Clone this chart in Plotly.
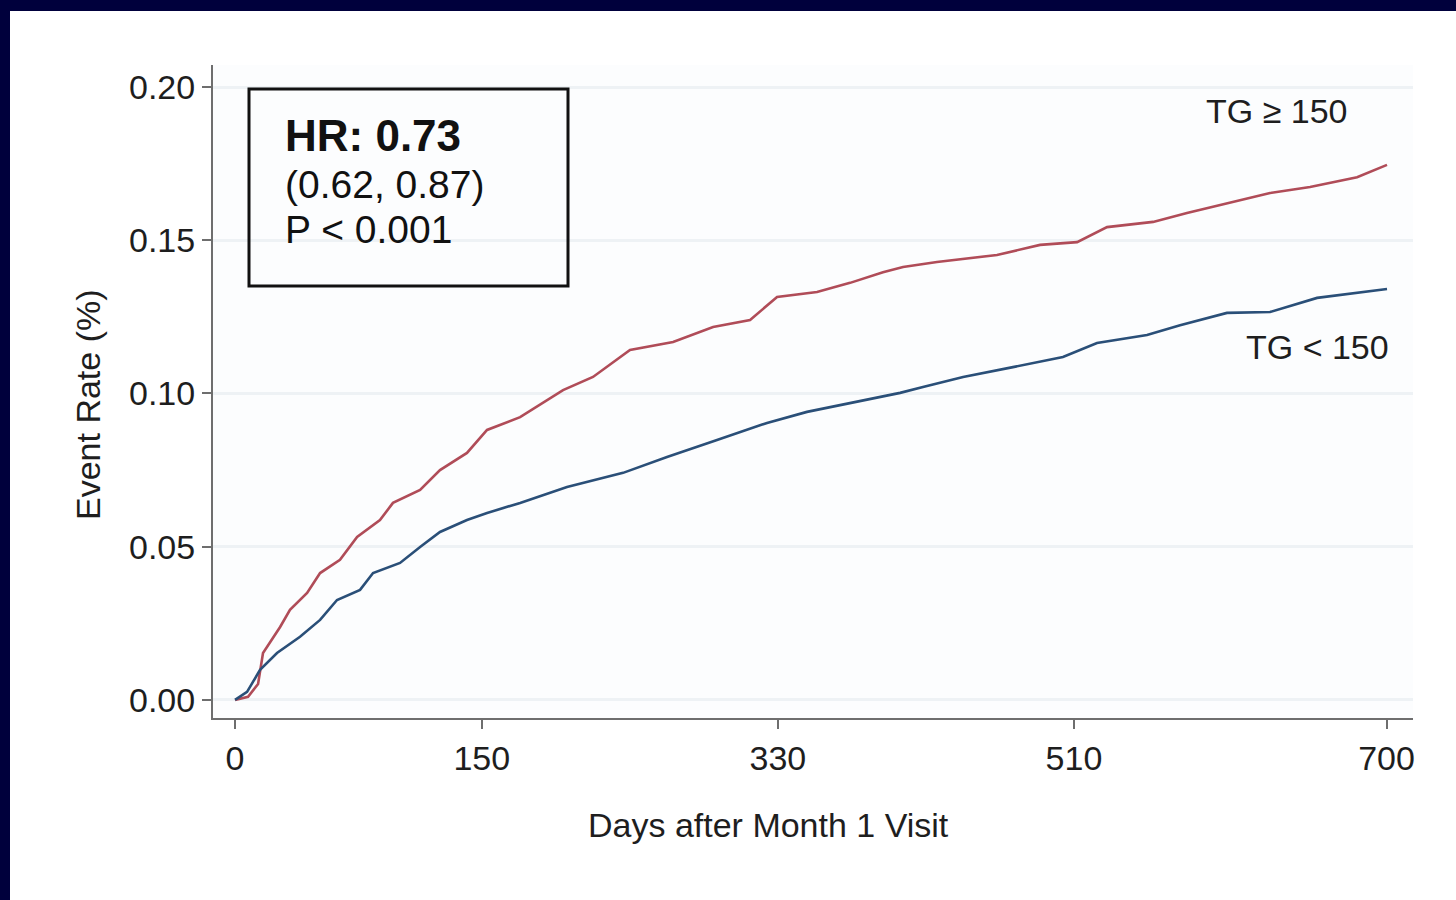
import plotly.graph_objects as go

# Cumulative event rate by baseline triglyceride group
days_tg_high = [0, 7.9, 14.0, 17.0, 27.4, 33.4, 43.8, 51.7, 63.8, 74.2, 88.1, 96.0, 112.5,
                124.6, 141.0, 153.2, 173.3, 187.2, 199.4, 217.6, 240.1, 266.3, 290.6,
                313.1, 329.5, 353.8, 373.9, 393.9, 406.1, 426.7, 463.2, 489.4, 511.9,
                530.1, 558.1, 578.7, 604.9, 629.2, 653.5, 682.1, 700.3]
rate_tg_high = [0, 0.0010, 0.0052, 0.0153, 0.0238, 0.0294, 0.0349, 0.0414, 0.0457, 0.0532,
                0.0587, 0.0643, 0.0685, 0.0750, 0.0806, 0.0881, 0.0923, 0.0969, 0.1011,
                0.1054, 0.1142, 0.1168, 0.1217, 0.1240, 0.1315, 0.1331, 0.1361, 0.1396,
                0.1413, 0.1429, 0.1452, 0.1485, 0.1494, 0.1543, 0.1560, 0.1589, 0.1622,
                0.1654, 0.1674, 0.1706, 0.1746]

days_tg_low = [0, 7.3, 15.2, 25.5, 39.5, 51.7, 62.0, 76.0, 83.9, 100.3, 112.5, 124.6,
               141.0, 153.2, 173.3, 201.8, 235.9, 262.6, 293.0, 323.4, 347.7, 373.9,
               404.3, 418.2, 442.6, 472.9, 503.3, 524.0, 554.4, 574.5, 603.0, 629.2,
               657.8, 700.3]
rate_tg_low = [0, 0.0026, 0.0098, 0.0153, 0.0206, 0.0261, 0.0326, 0.0359, 0.0414, 0.0447,
               0.0499, 0.0548, 0.0587, 0.0610, 0.0643, 0.0695, 0.0741, 0.0793, 0.0848,
               0.0904, 0.0940, 0.0969, 0.1002, 0.1021, 0.1054, 0.1086, 0.1119, 0.1165,
               0.1191, 0.1223, 0.1263, 0.1266, 0.1312, 0.1341]

x_ticks = [0, 150, 330, 510, 700]
x_tick_labels = ["0", "150", "330", "510", "700"]
y_ticks = [0, 0.05, 0.10, 0.15, 0.20]
y_tick_labels = ["0.00", "0.05", "0.10", "0.15", "0.20"]

FONT = "Liberation Sans, Arial, Helvetica, sans-serif"
NAVY = "#00003c"

W, H = 1456, 900
L, R, T, B = 213, 43, 65, 182
PW, PH = W - L - R, H - T - B


def px_x(px):
    return (px - L) / PW


def px_y(py):
    return (H - B - py) / PH


fig = go.Figure()
fig.add_trace(go.Scatter(x=days_tg_high, y=rate_tg_high, mode="lines",
                         line=dict(color="#b04c58", width=2.6), showlegend=False))
fig.add_trace(go.Scatter(x=days_tg_low, y=rate_tg_low, mode="lines",
                         line=dict(color="#2a4f78", width=2.6), showlegend=False))

axis_common = dict(
    showline=True, linecolor="#6e6e6e", linewidth=2,
    ticks="outside", ticklen=9, tickwidth=2, tickcolor="#6e6e6e",
    tickfont=dict(family=FONT, size=34, color="#1e1e1e"),
    zeroline=False,
)

fig.update_xaxes(range=[-13.4, 716.1], tickmode="array", tickvals=x_ticks,
                 ticktext=x_tick_labels, showgrid=False, **axis_common)
fig.update_yaxes(range=[-0.0059, 0.2072], tickmode="array", tickvals=y_ticks,
                 ticktext=y_tick_labels, showgrid=True, gridcolor="#eef2f5",
                 gridwidth=3, **axis_common)

shapes = [
    # dark frame strips along top and left edges
    dict(type="rect", xref="paper", yref="paper", x0=px_x(-5), x1=px_x(W + 5),
         y0=px_y(11), y1=px_y(-5), fillcolor=NAVY, line=dict(width=0), layer="above"),
    dict(type="rect", xref="paper", yref="paper", x0=px_x(-5), x1=px_x(10),
         y0=px_y(H + 5), y1=px_y(-5), fillcolor=NAVY, line=dict(width=0), layer="above"),
    # hazard ratio box
    dict(type="rect", xref="paper", yref="paper", x0=px_x(249), x1=px_x(568),
         y0=px_y(286), y1=px_y(89), line=dict(color="#111111", width=3),
         fillcolor="rgba(0,0,0,0)"),
]

annotations = [
    dict(text="<b>HR: 0.73</b>", x=px_x(283), y=px_y(135), xref="paper", yref="paper",
         xanchor="left", yanchor="middle", showarrow=False,
         font=dict(family=FONT, size=44, color="#111111")),
    dict(text="(0.62, 0.87)", x=px_x(283), y=px_y(184), xref="paper", yref="paper",
         xanchor="left", yanchor="middle", showarrow=False,
         font=dict(family=FONT, size=39, color="#111111")),
    dict(text="P &lt; 0.001", x=px_x(283), y=px_y(229), xref="paper", yref="paper",
         xanchor="left", yanchor="middle", showarrow=False,
         font=dict(family=FONT, size=39, color="#111111")),
    dict(text="TG ≥ 150", x=px_x(1350), y=px_y(111), xref="paper", yref="paper",
         xanchor="right", yanchor="middle", showarrow=False,
         font=dict(family=FONT, size=34, color="#1e1e1e")),
    dict(text="TG &lt; 150", x=px_x(1391), y=px_y(347), xref="paper", yref="paper",
         xanchor="right", yanchor="middle", showarrow=False,
         font=dict(family=FONT, size=34, color="#1e1e1e")),
    dict(text="Days after Month 1 Visit", x=px_x(768), y=px_y(825), xref="paper",
         yref="paper", xanchor="center", yanchor="middle", showarrow=False,
         font=dict(family=FONT, size=34, color="#1e1e1e")),
    dict(text="Event Rate (%)", x=px_x(88), y=px_y(405), xref="paper", yref="paper",
         xanchor="center", yanchor="middle", textangle=-90, showarrow=False,
         font=dict(family=FONT, size=34, color="#1e1e1e")),
]

fig.update_layout(
    width=W, height=H,
    margin=dict(l=L, r=R, t=T, b=B, pad=0),
    paper_bgcolor="#ffffff", plot_bgcolor="#fcfdfe",
    shapes=shapes, annotations=annotations,
)

fig.write_html("out.html", include_plotlyjs=True, full_html=True,
               config={"displayModeBar": False})
